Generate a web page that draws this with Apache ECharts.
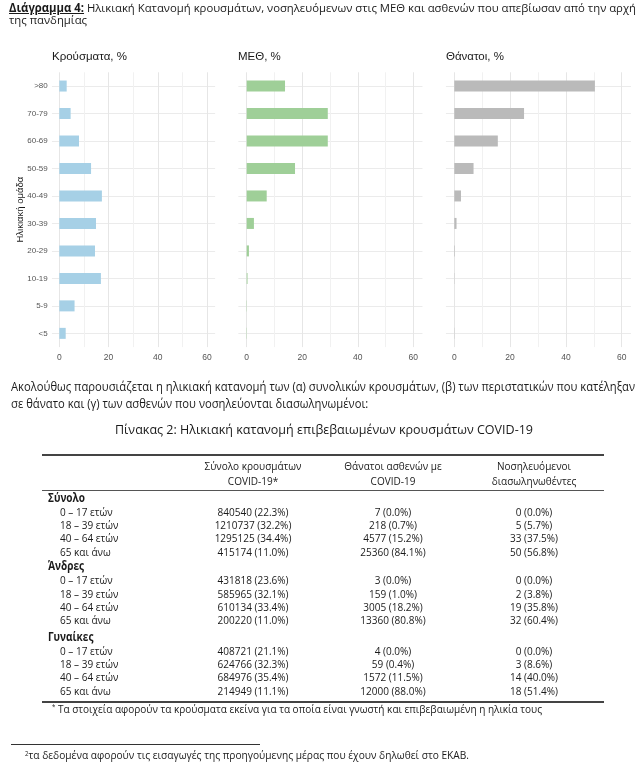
<!DOCTYPE html>
<html><head><meta charset="utf-8">
<script src="https://cdn.jsdelivr.net/npm/echarts@6/dist/echarts.min.js"></script>
<style>
html,body{margin:0;padding:0;background:#fff;width:639px;height:779px;overflow:hidden;}
#chart{position:absolute;left:0;top:0;width:639px;height:779px;}
#overlay{position:absolute;left:0;top:0;width:639px;height:779px;z-index:2;pointer-events:none;}
.t{position:absolute;white-space:nowrap;color:#1a1a1a;line-height:1;}
.t span.in{display:inline-block;}
.rule{position:absolute;}
sup{font-size:0.6em;vertical-align:0.5em;line-height:0;}
</style></head><body>
<div id="chart"></div>
<div id="overlay"></div>
<script>
// ---------- chart data ----------
const ageGroups = ['<5', '5-9', '10-19', '20-29', '30-39', '40-49', '50-59', '60-69', '70-79', '>80'];
const casesPct  = [2.6, 6.2, 16.9, 14.5, 14.9, 17.3, 12.9, 8.0, 4.6, 3.0];
const icuPct    = [0.1, 0.1, 0.3, 0.8, 2.6, 7.2, 17.4, 29.2, 29.2, 13.8];
const deathsPct = [0.1, 0.0, 0.1, 0.2, 0.8, 2.4, 6.9, 15.6, 25.0, 50.4];
const xTickLabels = [0, 20, 40, 60];
const panelTitles = ['Κρούσματα, %', 'ΜΕΘ, %', 'Θάνατοι, %'];
const yAxisTitle = 'Ηλικιακή ομάδα';

// ---------- table data ----------
const tableHeader1 = ['Σύνολο κρουσμάτων', 'Θάνατοι ασθενών με', 'Νοσηλευόμενοι'];
const tableHeader2 = ['COVID-19*', 'COVID-19', 'διασωληνωθέντες'];
const tableGroups = ['Σύνολο', 'Άνδρες', 'Γυναίκες'];
const tableAges = ['0 – 17 ετών', '18 – 39 ετών', '40 – 64 ετών', '65 και άνω'];
const casesCount  = [[840540, 1210737, 1295125, 415174], [431818, 585965, 610134, 200220], [408721, 624766, 684976, 214949]];
const casesShare  = [[22.3, 32.2, 34.4, 11.0], [23.6, 32.1, 33.4, 11.0], [21.1, 32.3, 35.4, 11.1]];
const deathsCount = [[7, 218, 4577, 25360], [3, 159, 3005, 13360], [4, 59, 1572, 12000]];
const deathsShare = [[0.0, 0.7, 15.2, 84.1], [0.0, 1.0, 18.2, 80.8], [0.0, 0.4, 11.5, 88.0]];
const intubCount  = [[0, 5, 33, 50], [0, 2, 19, 32], [0, 3, 14, 18]];
const intubShare  = [[0.0, 5.7, 37.5, 56.8], [0.0, 3.8, 35.8, 60.4], [0.0, 8.6, 40.0, 51.4]];

// ---------- chart ----------
const seriesData = [casesPct, icuPct, deathsPct];
const barColors = ['#a6d0e6', '#9fcf98', '#bababa'];
const K = [2.462, 2.777, 2.79];
const X0 = [59.3, 246.7, 454.3];
const XMIN = -3, XMAX = 63.3;
const TOP = 72.3, BAND = 27.48, H = BAND * 10;
const labelColor = '#555';
const grid = [], xAxis = [], yAxis = [], series = [], title = [];
const titleX = [52, 238, 446];
for (let i = 0; i < 3; i++) {
  grid.push({left: X0[i] + XMIN * K[i], top: TOP, width: (XMAX - XMIN) * K[i], height: H, outerBoundsMode: 'none'});
  grid.push({left: X0[i], top: TOP, width: XMAX * K[i], height: H, outerBoundsMode: 'none'});
  xAxis.push({gridIndex: 2 * i, type: 'value', min: XMIN, max: XMAX, show: false});
  yAxis.push({gridIndex: 2 * i, type: 'value', min: 0, max: 10, interval: 0.5,
    axisLine: {show: false}, axisTick: {show: false}, axisLabel: {show: false},
    splitLine: {show: true, lineStyle: {color: ['rgba(0,0,0,0)', '#ebebeb'], width: 1}}});
  xAxis.push({gridIndex: 2 * i + 1, type: 'value', min: 0, max: XMAX, interval: 10,
    axisLine: {show: false}, axisTick: {show: false},
    axisLabel: {color: labelColor, fontSize: 8.5, margin: 6, fontFamily: 'Liberation Sans',
      formatter: v => xTickLabels.includes(v) ? String(v) : ''},
    splitLine: {show: true, showMinLine: true, showMaxLine: false,
      lineStyle: {color: ['#e6e6e6', '#f1f1f1'], width: 1}}});
  yAxis.push({gridIndex: 2 * i + 1, type: 'category', data: ageGroups,
    axisLine: {show: false}, axisTick: {show: false}, splitLine: {show: false},
    axisLabel: {show: i === 0, color: labelColor, fontSize: 8, margin: X0[0] - 47.7, fontFamily: 'Liberation Sans'}});
  series.push({type: 'bar', xAxisIndex: 2 * i + 1, yAxisIndex: 2 * i + 1, data: seriesData[i],
    barWidth: 11, itemStyle: {color: barColors[i]}, clip: false, silent: true});
  title.push({text: panelTitles[i], left: titleX[i], top: 51, padding: 0,
    textStyle: {fontSize: 11.5, fontWeight: 'normal', color: '#1a1a1a', fontFamily: 'Liberation Sans'}});
}
const chart = echarts.init(document.getElementById('chart'));
chart.setOption({
  animation: false,
  backgroundColor: '#fff',
  title, grid, xAxis, yAxis, series,
  graphic: [{type: 'text', x: 20, y: TOP + H / 2, rotation: Math.PI / 2,
    style: {text: yAxisTitle, fontSize: 9.5, fill: '#1a1a1a', fontFamily: 'Liberation Sans', align: 'center', verticalAlign: 'middle'}}]
});

// ---------- html text ----------
const overlay = document.getElementById('overlay');
function addText(html, o) {
  const d = document.createElement('div');
  d.className = 't';
  d.style.fontSize = o.size + 'px';
  d.style.fontFamily = o.family || "'Open Sans'";
  if (o.weight) d.style.fontWeight = o.weight;
  if (o.color) d.style.color = o.color;
  d.style.top = (o.y - o.size * 0.58) + 'px';
  d.style.left = o.x + 'px';
  const s = document.createElement('span');
  s.className = 'in';
  s.innerHTML = html;
  d.appendChild(s);
  overlay.appendChild(d);
  const nat = s.getBoundingClientRect().width;
  const sc = o.w ? o.w / nat : (o.scale || 1);
  if (o.align === 'center') {
    s.style.transformOrigin = '50% 50%';
    s.style.transform = 'translateX(-50%) scaleX(' + sc + ')';
  } else {
    s.style.transformOrigin = '0 50%';
    s.style.transform = 'scaleX(' + sc + ')';
  }
  return sc;
}
function addRule(x1, x2, y, h, color) {
  const r = document.createElement('div');
  r.className = 'rule';
  r.style.left = x1 + 'px'; r.style.width = (x2 - x1) + 'px';
  r.style.top = (y - h / 2) + 'px'; r.style.height = h + 'px';
  r.style.background = color;
  overlay.appendChild(r);
}
const condensed = "'Open Sans'";
const t1 = addText('<b style="text-decoration:underline">Διάγραμμα 4:</b> Ηλικιακή Κατανομή κρουσμάτων, νοσηλευόμενων στις ΜΕΘ και ασθενών που απεβίωσαν από την αρχή',
  {x: 9, y: 8.5, size: 11.5, family: condensed, w: 627});
addText('της πανδημίας', {x: 9, y: 21, size: 11.5, family: condensed, scale: t1});
const p1 = addText('Ακολούθως παρουσιάζεται η ηλικιακή κατανομή των (α) συνολικών κρουσμάτων, (β) των περιστατικών που κατέληξαν',
  {x: 10.5, y: 387.5, size: 12, family: condensed, w: 624});
addText('σε θάνατο και (γ) των ασθενών που νοσηλεύονται διασωληνωμένοι:', {x: 10.5, y: 404.5, size: 12, family: condensed, scale: p1});
addText('Πίνακας 2: Ηλικιακή κατανομή επιβεβαιωμένων κρουσμάτων COVID-19', {x: 115, y: 431, size: 13.5, family: "'Open Sans'", w: 418});

// table
const TS = 11.5;
const meas = document.createElement('span');
meas.style.cssText = "position:absolute;visibility:hidden;white-space:nowrap;font-size:" + TS + "px;font-family:'Open Sans'";
meas.textContent = '840540 (22.3%)';
document.body.appendChild(meas);
const tsc = 71 / meas.getBoundingClientRect().width;
document.body.removeChild(meas);
const colX = [253, 393, 534];
addRule(42, 604, 455, 1.6, '#444');
addRule(42, 604, 490, 1, '#555');
addRule(42, 604, 702, 1.6, '#444');
for (let c = 0; c < 3; c++) {
  addText(tableHeader1[c], {x: colX[c], y: 467, size: TS, align: 'center', scale: tsc});
  addText(tableHeader2[c], {x: colX[c], y: 481.5, size: TS, align: 'center', scale: tsc});
}
const sectionY = [498.5, 567, 637.5];
const rowOff = [14, 27.3, 40.6, 53.9];
const fmt = (n, p) => n + ' (' + p.toFixed(1) + '%)';
for (let g = 0; g < 3; g++) {
  addText(tableGroups[g], {x: 48, y: sectionY[g], size: TS, weight: 'bold', scale: tsc});
  for (let r = 0; r < 4; r++) {
    const y = sectionY[g] + rowOff[r];
    addText(tableAges[r], {x: 60, y, size: TS, scale: tsc});
    addText(fmt(casesCount[g][r], casesShare[g][r]), {x: colX[0], y, size: TS, align: 'center', scale: tsc});
    addText(fmt(deathsCount[g][r], deathsShare[g][r]), {x: colX[1], y, size: TS, align: 'center', scale: tsc});
    addText(fmt(intubCount[g][r], intubShare[g][r]), {x: colX[2], y, size: TS, align: 'center', scale: tsc});
  }
}
addText('<sup>*</sup> Τα στοιχεία αφορούν τα κρούσματα εκείνα για τα οποία είναι γνωστή και επιβεβαιωμένη η ηλικία τους',
  {x: 52, y: 710, size: 11.5, family: condensed, w: 490});
addRule(11, 260, 744.5, 1, '#333');
addText('<sup>2</sup>τα δεδομένα αφορούν τις εισαγωγές της προηγούμενης μέρας που έχουν δηλωθεί στο ΕΚΑΒ.',
  {x: 25, y: 756, size: 11.5, family: condensed, w: 444});
</script>
</body></html>
